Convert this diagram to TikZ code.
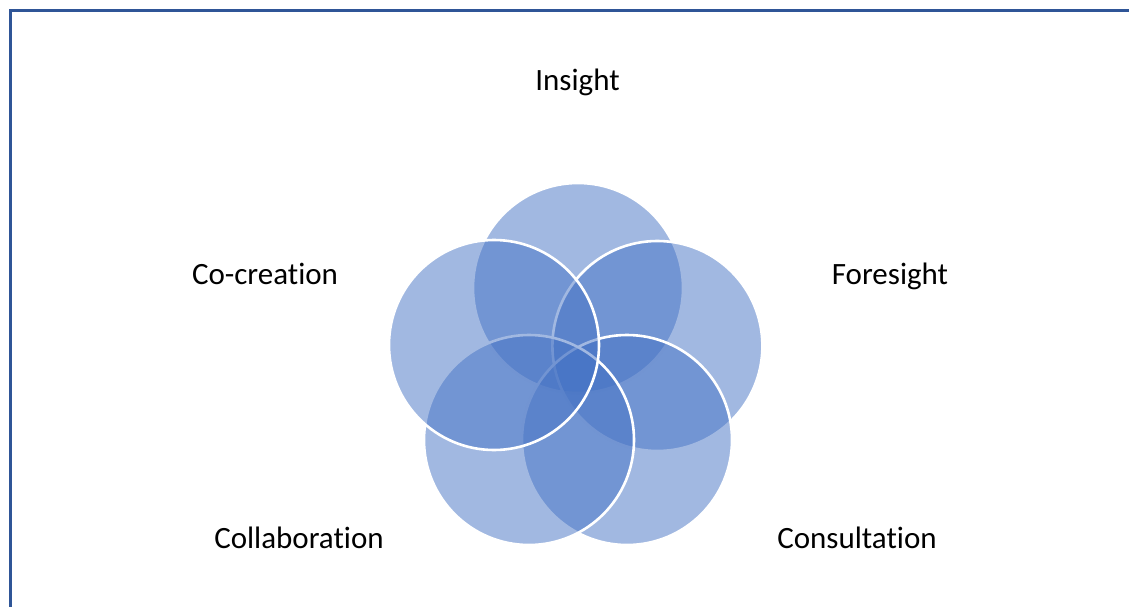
\documentclass[tikz,border=0pt]{standalone}
\usepackage{fontspec}
\setmainfont[Ligatures={NoCommon,NoContextual},RawFeature={-liga;-clig;-calt}]{Carlito}
\begin{document}
\begin{tikzpicture}[x=1pt,y=-1pt,
  venn/.style={circle, minimum size=210pt, inner sep=0pt, fill={rgb,255:red,68;green,114;blue,196}, fill opacity=0.5, draw=white, draw opacity=1, line width=2.6pt},
  lbl/.style={anchor=base, inner sep=0pt, font=\fontsize{31}{37}\selectfont, text=black}]
\useasboundingbox (0,0) rectangle (1129,607);
\clip (0,0) rectangle (1129,607);
\draw[line width=2.4pt, draw={rgb,255:red,47;green,85;blue,151}] (10.5,10.5) rectangle (1160,640);
\node[venn] (insight) at (578,288) {};
\node[venn] (foresight) at (657.4,346) {};
\node[venn] (consult) at (627,440) {};
\node[venn] (collab) at (529,440) {};
\node[venn] (cocreate) at (494,345) {};
\node[lbl] (tinsight) at (577.5,91) {Insight};
\node[lbl] (tcocreate) at (265,284) {Co-creation};
\node[lbl] (tforesight) at (890,284) {Foresight};
\node[lbl] (tcollab) at (299,548) {Collaboration};
\node[lbl] (tconsult) at (857,548) {Consultation};
\end{tikzpicture}
\end{document}
